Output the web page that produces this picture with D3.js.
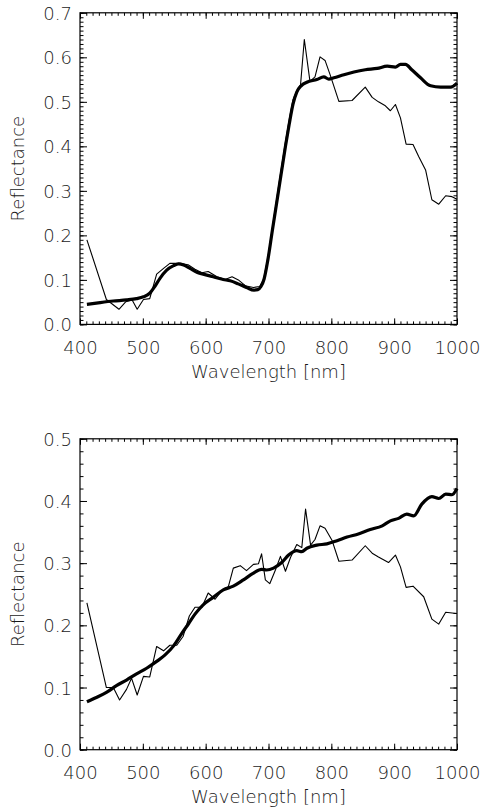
<!DOCTYPE html>
<html><head><meta charset="utf-8">
<script src="https://cdn.jsdelivr.net/npm/d3@7"></script>
<style>body{margin:0;background:#fff}svg{display:block}</style>
</head><body><svg id="c" width="485" height="807"></svg>
<script>
// ---- data ----
const topMeasuredWl = [411,442,462,473,483,491,501,511,522,533,543,559,572,583,594,604,618,631,642,652,663,676,686,692,699,706,716,727,733,739,746,751,757,766,774,782,790,798,812,833,854,865,875,886,894,902,910,919,930,939,950,960,971,982,992,1000];
const topMeasuredR = [0.190,0.056,0.034,0.051,0.055,0.034,0.056,0.058,0.113,0.126,0.137,0.137,0.134,0.124,0.116,0.119,0.107,0.101,0.107,0.100,0.087,0.083,0.085,0.100,0.150,0.215,0.310,0.410,0.460,0.505,0.528,0.538,0.640,0.546,0.556,0.601,0.593,0.561,0.501,0.503,0.533,0.510,0.500,0.491,0.480,0.494,0.464,0.405,0.404,0.377,0.347,0.280,0.270,0.289,0.287,0.281];
const topModelWl = [411,432,453,474,490,501,511,519,527,538,549,557,565,575,586,596,612,628,639,652,665,677,683,688,693,699,706,716,727,733,739,745,752,761,777,788,796,804,820,836,854,873,889,902,910,918,928,942,958,974,990,1000];
const topModelR = [0.045,0.049,0.0525,0.055,0.058,0.062,0.070,0.085,0.103,0.122,0.132,0.136,0.1335,0.126,0.117,0.113,0.107,0.101,0.098,0.091,0.083,0.077,0.078,0.085,0.102,0.145,0.210,0.300,0.400,0.450,0.495,0.522,0.536,0.544,0.550,0.556,0.551,0.554,0.561,0.567,0.572,0.575,0.580,0.578,0.584,0.584,0.572,0.554,0.536,0.533,0.533,0.542];

const botMeasuredWl = [411,442,453,463,474,482,491,501,511,522,533,543,554,564,574,583,594,604,615,626,636,644,655,665,676,684,689,695,702,711,719,727,735,745,753,759,767,774,782,790,801,812,833,854,865,875,891,902,910,919,930,947,960,971,982,999];
const botMeasuredR = [0.236,0.100,0.100,0.080,0.097,0.115,0.088,0.118,0.117,0.166,0.159,0.168,0.168,0.182,0.215,0.229,0.229,0.252,0.242,0.256,0.262,0.292,0.296,0.288,0.298,0.299,0.315,0.273,0.267,0.289,0.311,0.287,0.309,0.330,0.325,0.387,0.329,0.338,0.360,0.356,0.337,0.303,0.305,0.328,0.316,0.310,0.301,0.313,0.294,0.261,0.263,0.246,0.210,0.202,0.221,0.219];
const botModelWl = [411,426,442,458,474,490,506,522,535,549,562,573,583,596,612,628,644,660,676,689,697,708,721,732,745,753,761,777,793,809,825,843,862,881,894,907,920,931,944,960,971,982,992,1000];
const botModelR = [0.077,0.084,0.092,0.103,0.112,0.122,0.131,0.142,0.152,0.167,0.187,0.203,0.218,0.233,0.245,0.257,0.263,0.273,0.284,0.290,0.289,0.292,0.301,0.313,0.320,0.3185,0.324,0.329,0.331,0.336,0.342,0.347,0.354,0.360,0.368,0.372,0.379,0.376,0.395,0.407,0.404,0.411,0.410,0.420];

const xTicks = [400,500,600,700,800,900,1000];
const topYTicks = [0.0,0.1,0.2,0.3,0.4,0.5,0.6,0.7];
const botYTicks = [0.0,0.1,0.2,0.3,0.4,0.5];
const xTitle = "Wavelength [nm]";
const yTitle = "Reflectance";

// ---- drawing ----
const svg = d3.select("#c");
const FONT = "'DejaVu Sans ExtraLight', 'DejaVu Sans', sans-serif";
const FS = 18;
const FW = 200;
const TXT = "#1a1a1a";

function panel(cfg){
  const {left,right,top,bottom,ymax,yTicks,yMinorStep,series} = cfg;
  const x = d3.scaleLinear().domain([400,1000]).range([left,right]);
  const y = d3.scaleLinear().domain([0,ymax]).range([bottom,top]);
  const g = svg.append("g");
  const xMinor = d3.range(400,1000.001,10);
  const yMinor = d3.range(0,ymax+1e-9,yMinorStep);
  const XM=6, Xm=3, YM=7, Ym=3.5;

  const addAxis = (axis, tr) => {
    const a = g.append("g").attr("transform",tr).call(axis);
    a.select(".domain").remove();
    a.selectAll("line").attr("stroke","#000").attr("stroke-width",1);
    return a;
  };
  const styleText = sel => sel.attr("font-family",FONT).attr("font-size",FS).attr("font-weight",FW).attr("fill",TXT);
  // bottom
  addAxis(d3.axisBottom(x).tickValues(xMinor).tickSize(-Xm).tickFormat(""), `translate(0,${bottom})`);
  const bx = addAxis(d3.axisBottom(x).tickValues(xTicks).tickSize(-XM).tickFormat(d3.format("d")), `translate(0,${bottom})`);
  styleText(bx.selectAll("text").attr("y",23).attr("dy","0.35em"));
  // top
  addAxis(d3.axisTop(x).tickValues(xMinor).tickSize(-Xm).tickFormat(""), `translate(0,${top})`);
  addAxis(d3.axisTop(x).tickValues(xTicks).tickSize(-XM).tickFormat(""), `translate(0,${top})`);
  // left
  addAxis(d3.axisLeft(y).tickValues(yMinor).tickSize(-Ym).tickFormat(""), `translate(${left},0)`);
  const ly = addAxis(d3.axisLeft(y).tickValues(yTicks).tickSize(-YM).tickFormat(d3.format(".1f")), `translate(${left},0)`);
  styleText(ly.selectAll("text").attr("x",-8).attr("dy","0.36em"));
  // right
  addAxis(d3.axisRight(y).tickValues(yMinor).tickSize(-Ym).tickFormat(""), `translate(${right},0)`);
  addAxis(d3.axisRight(y).tickValues(yTicks).tickSize(-YM).tickFormat(""), `translate(${right},0)`);

  g.append("rect").attr("x",left).attr("y",top).attr("width",right-left).attr("height",bottom-top)
    .attr("fill","none").attr("stroke","#000").attr("stroke-width",1.2);

  const thin = d3.zip(series.mWl, series.mR);
  const thick = d3.zip(series.sWl, series.sR);
  g.append("path").attr("d",d3.line().x(d=>x(d[0])).y(d=>y(d[1]))(thin)).attr("fill","none").attr("stroke","#000").attr("stroke-width",1.1).attr("stroke-linejoin","round");
  g.append("path").attr("d",d3.line().x(d=>x(d[0])).y(d=>y(d[1])).curve(d3.curveMonotoneX)(thick)).attr("fill","none").attr("stroke","#000").attr("stroke-width",3.2).attr("stroke-linejoin","round");

  styleText(g.append("text").attr("x",(left+right)/2).attr("y",bottom+47).attr("dy","0.35em").attr("text-anchor","middle")).text(xTitle);
  styleText(g.append("text").attr("transform",`translate(18,${(top+bottom)/2}) rotate(-90)`).attr("dy","0.35em").attr("text-anchor","middle")).text(yTitle);
}

panel({left:80,right:457,top:12.8,bottom:324.4,ymax:0.7,yTicks:topYTicks,yMinorStep:0.01,
  series:{mWl:topMeasuredWl,mR:topMeasuredR,sWl:topModelWl,sR:topModelR}});
panel({left:80,right:457,top:438.8,bottom:749.7,ymax:0.5,yTicks:botYTicks,yMinorStep:0.02,
  series:{mWl:botMeasuredWl,mR:botMeasuredR,sWl:botModelWl,sR:botModelR}});
</script></body></html>
